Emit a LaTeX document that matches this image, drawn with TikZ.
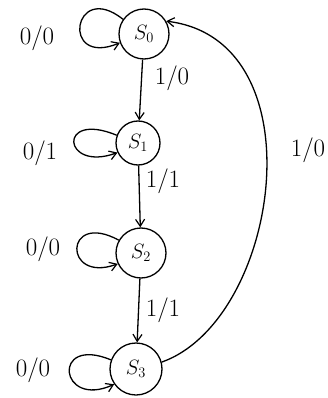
\documentclass[tikz,border=0pt]{standalone}
\usetikzlibrary{arrows.meta}
\begin{document}
\begin{tikzpicture}[x=1pt,y=-1pt,
  state/.style={draw,circle,line width=1.3pt,minimum size=50pt,inner sep=0pt,font=\fontsize{22}{24}\selectfont},
  lbl/.style={font=\fontsize{25}{28}\selectfont},
  edge/.style={line width=1.3pt,-{Straight Barb[length=7pt,width=9pt,line width=1.2pt]}}]
\useasboundingbox (0,0) rectangle (328,398);
\node[state] (s0) at (144,34) {$S_0$};
\node[state,minimum size=44pt] (s1) at (138,143) {$S_1$};
\node[state] (s2) at (141,253) {$S_2$};
\node[state,minimum size=52pt] (s3) at (136,369) {$S_3$};
\node[lbl] (l00) at (37,38) {0/0};
\node[lbl] (l01) at (40,153) {0/1};
\node[lbl] (l02) at (43,249) {0/0};
\node[lbl] (l03) at (33,370) {0/0};
\node[lbl] (l10) at (172,78) {1/0};
\node[lbl] (l11) at (163,181) {1/1};
\node[lbl] (l12) at (163,310) {1/1};
\node[lbl] (l13) at (308,150) {1/0};
\draw[edge] (s0.145) .. controls +(-50,-40) and +(-60,25) .. (s0.200);
\draw[edge] (s1.160) .. controls +(-60,-25) and +(-55,20) .. (s1.205);
\draw[edge] (s2.150) .. controls +(-55,-30) and +(-55,20) .. (s2.205);
\draw[edge] (s3.160) .. controls +(-60,-25) and +(-55,25) .. (s3.215);
\draw[edge] (s0) -- (s1);
\draw[edge] (s1) -- (s2);
\draw[edge] (s2) -- (s3);
\draw[edge] (s3.15) .. controls (280,320) and (320,40) .. (s0.30);
\end{tikzpicture}
\end{document}
